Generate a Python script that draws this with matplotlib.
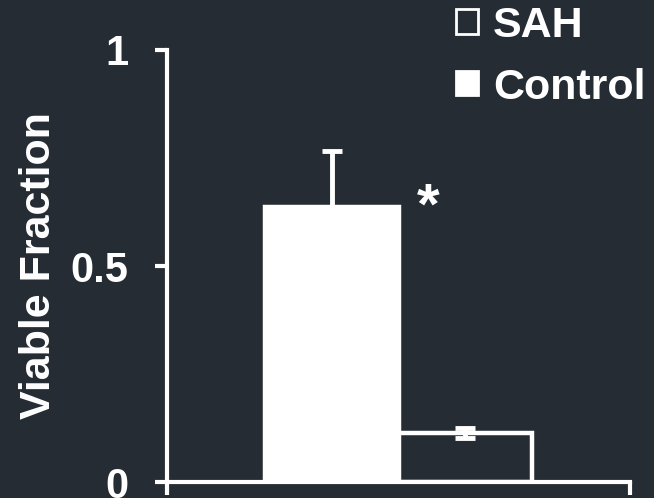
import matplotlib
matplotlib.use("Agg")
import matplotlib.pyplot as plt
from matplotlib.patches import Patch

# Viability data
groups = ["Control", "SAH"]
values = [0.637, 0.113]
errors = [0.13, 0.012]
legend_order = ["SAH", "Control"]
yticks = [0, 0.5, 1]
ytick_labels = ["0", "0.5", "1"]

BG = "#262c34"
FG = "white"

plt.rcParams["font.family"] = ["Liberation Sans", "DejaVu Sans"]
plt.rcParams["font.weight"] = "bold"

fig = plt.figure(figsize=(6.54, 4.98), dpi=100, facecolor=BG)
ax = fig.add_axes([0.2554, 0.0321, 0.9633 - 0.2554, 0.8996 - 0.0321])
ax.set_facecolor(BG)

width = 0.288
centers = [0.5 - width / 2, 0.5 + width / 2]
fills = {"Control": FG, "SAH": BG}

for g, c, v, e in zip(groups, centers, values, errors):
    ax.bar(c, v, width=width, color=fills[g], edgecolor=FG, linewidth=3.2, zorder=2)
    ax.errorbar(c, v, yerr=e, fmt="none", ecolor=FG, elinewidth=3.5,
                capsize=7, capthick=3.5, zorder=3)

# significance marker next to the control bar
ax.text(centers[0] + width / 2 + 0.065, values[0] - 0.005, "*", color=FG,
        fontsize=42, fontweight="bold", ha="center", va="center")

ax.set_xlim(0, 1)
ax.set_ylim(0, 1)
ax.set_xticks([0, 1])
ax.set_xticklabels([])
ax.set_yticks(yticks)
ax.set_yticklabels(ytick_labels)

for s in ["top", "right"]:
    ax.spines[s].set_visible(False)
for s in ["left", "bottom"]:
    ax.spines[s].set_color(FG)
    ax.spines[s].set_linewidth(3)
ax.tick_params(axis="y", direction="out", length=9, width=3, color=FG,
               labelcolor=FG, labelsize=30, pad=19)
ax.tick_params(axis="x", direction="out", length=9, width=3, color=FG)

ax.set_ylabel("Viable Fraction", color=FG, fontsize=31, fontweight="bold",
              labelpad=8)

handles = [Patch(facecolor=fills[g], edgecolor=FG, linewidth=2) for g in legend_order]
fig.legend(handles, legend_order, loc="upper left", bbox_to_anchor=(0.698, 0.988),
           frameon=False, labelcolor=FG, handlelength=0.5,
           handleheight=0.5, handletextpad=0.35, labelspacing=0.5, borderpad=0.0,
           borderaxespad=0.0, prop={"weight": "bold", "size": 31})

fig.savefig("out.png", dpi=100, facecolor=BG)
